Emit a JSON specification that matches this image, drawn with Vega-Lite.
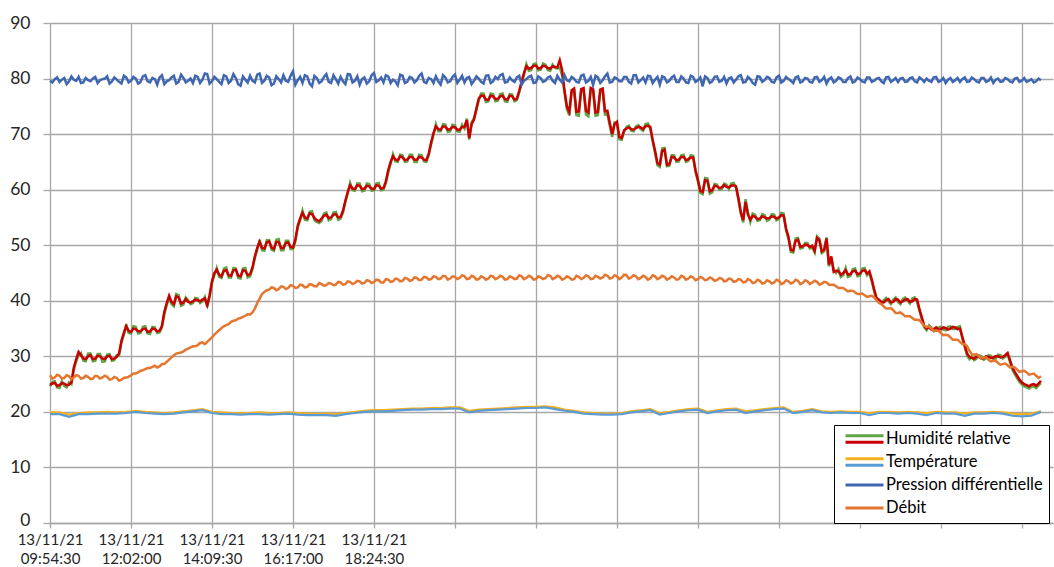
{
"$schema": "https://vega.github.io/schema/vega-lite/v6.json",
"width": 1003, "height": 500,
"autosize": {"type": "none"},
"padding": {"left": 50, "top": 23, "right": 1, "bottom": 44},
"background": "white",
"config": {"view": {"stroke": null}, "font": "Lato"},
"data": {"values": [
{"t":0,"g":24.6,"r":24.9,"p":79.6,"d":26.6,"y":19.9,"b":19.6},
{"t":7.5,"g":25.5,"r":25.2,"p":79.9,"d":26.2},
{"t":15,"g":24.3,"r":24.8,"p":79.4,"d":26.5,"y":19.9,"b":19.6},
{"t":22.5,"g":24.7,"r":25.1,"p":80.1,"d":26.1},
{"t":30,"g":25.3,"r":24.9,"p":79.5,"d":26.4,"y":19.5,"b":19.1},
{"t":37.5,"g":27.6,"r":28.0,"p":79.8,"d":26.2},
{"t":45,"g":30.2,"r":30.8,"p":80.3,"d":26.5,"y":19.8,"b":19.6},
{"t":52.5,"g":29.2,"r":29.6,"p":79.3,"d":26.1},
{"t":60,"g":30.5,"r":30.0,"p":79.7,"d":26.3,"y":19.9,"b":19.6},
{"t":67.5,"g":29.1,"r":29.5,"p":80.0,"d":26.0},
{"t":75,"g":30.4,"r":30.1,"p":79.2,"d":26.4,"y":19.9,"b":19.7},
{"t":82.5,"g":29.0,"r":29.6,"p":79.9,"d":26.2},
{"t":90,"g":30.3,"r":30.0,"p":80.4,"d":26.3,"y":20.0,"b":19.7},
{"t":97.5,"g":29.2,"r":29.5,"p":79.5,"d":25.9},
{"t":105,"g":30.2,"r":29.9,"p":79.8,"d":26.1,"y":19.9,"b":19.7},
{"t":112.5,"g":32.5,"r":32.8,"p":79.1,"d":25.8},
{"t":120,"g":35.8,"r":35.4,"p":80.2,"d":26.2,"y":20.0,"b":19.8},
{"t":127.5,"g":34.1,"r":34.4,"p":79.6,"d":26.6},
{"t":135,"g":35.3,"r":34.9,"p":80.0,"d":26.9,"y":20.2,"b":20.0},
{"t":142.5,"g":34.2,"r":34.5,"p":79.4,"d":27.4},
{"t":150,"g":35.4,"r":35.0,"p":80.6,"d":27.7,"y":20.0,"b":19.8},
{"t":157.5,"g":34.0,"r":34.5,"p":79.3,"d":27.9},
{"t":165,"g":35.2,"r":34.9,"p":79.9,"d":28.3,"y":19.9,"b":19.7},
{"t":172.5,"g":34.3,"r":34.6,"p":80.2,"d":28.2},
{"t":180,"g":37.6,"r":38.0,"p":79.0,"d":28.6,"y":19.8,"b":19.6},
{"t":187.5,"g":40.5,"r":40.9,"p":79.7,"d":29.4},
{"t":195,"g":39.0,"r":39.4,"p":80.5,"d":30.2,"y":19.9,"b":19.7},
{"t":202.5,"g":41.0,"r":40.6,"p":79.4,"d":30.6},
{"t":210,"g":39.3,"r":39.7,"p":80.1,"d":30.9,"y":20.1,"b":19.9},
{"t":217.5,"g":40.1,"r":39.8,"p":79.6,"d":31.4},
{"t":225,"g":39.6,"r":39.9,"p":79.2,"d":31.8,"y":20.3,"b":20.1},
{"t":232.5,"g":40.4,"r":40.1,"p":80.3,"d":32.0},
{"t":240,"g":39.9,"r":40.2,"p":79.8,"d":32.5,"y":20.5,"b":20.3},
{"t":247.5,"g":38.9,"r":39.2,"p":80.8,"d":32.6},
{"t":255,"g":43.2,"r":43.5,"p":79.5,"d":33.4,"y":20.0,"b":19.8},
{"t":262.5,"g":45.9,"r":45.6,"p":79.9,"d":34.3},
{"t":270,"g":44.1,"r":44.4,"p":79.0,"d":35.1,"y":19.9,"b":19.6},
{"t":277.5,"g":46.0,"r":45.5,"p":80.4,"d":35.6},
{"t":285,"g":44.2,"r":44.5,"p":79.6,"d":36.2,"y":19.8,"b":19.6},
{"t":292.5,"g":45.8,"r":45.6,"p":80.1,"d":36.5},
{"t":300,"g":44.0,"r":44.4,"p":78.7,"d":36.9,"y":19.8,"b":19.5},
{"t":307.5,"g":45.9,"r":45.4,"p":79.8,"d":37.3},
{"t":315,"g":44.4,"r":44.8,"p":80.5,"d":37.5,"y":19.8,"b":19.6},
{"t":322.5,"g":47.7,"r":48.0,"p":79.3,"d":38.6},
{"t":330,"g":51.0,"r":50.6,"p":80.9,"d":40.4,"y":19.9,"b":19.6},
{"t":337.5,"g":49.0,"r":49.4,"p":79.6,"d":41.6},
{"t":345,"g":50.9,"r":50.7,"p":80.2,"d":42.0,"y":19.8,"b":19.5},
{"t":352.5,"g":49.0,"r":49.3,"p":79.1,"d":42.3},
{"t":360,"g":51.1,"r":50.6,"p":79.9,"d":42.1,"y":19.8,"b":19.6},
{"t":367.5,"g":49.1,"r":49.5,"p":80.6,"d":42.5},
{"t":375,"g":50.8,"r":50.5,"p":79.4,"d":42.3,"y":19.9,"b":19.7},
{"t":382.5,"g":49.3,"r":49.6,"p":81.3,"d":42.7},
{"t":390,"g":53.2,"r":53.5,"p":79.7,"d":42.4,"y":19.8,"b":19.5},
{"t":397.5,"g":56.2,"r":55.8,"p":79.2,"d":42.8},
{"t":405,"g":54.5,"r":54.8,"p":80.4,"d":42.5,"y":19.7,"b":19.4},
{"t":412.5,"g":56.1,"r":55.6,"p":78.6,"d":42.9},
{"t":420,"g":54.2,"r":54.5,"p":80.1,"d":42.6,"y":19.6,"b":19.4},
{"t":427.5,"g":54.4,"r":54.8,"p":79.5,"d":43.0},
{"t":435,"g":55.9,"r":55.5,"p":80.8,"d":42.8,"y":19.7,"b":19.4},
{"t":442.5,"g":54.7,"r":55.0,"p":79.2,"d":43.1},
{"t":450,"g":56.0,"r":55.6,"p":79.9,"d":42.9,"y":19.6,"b":19.3},
{"t":457.5,"g":54.8,"r":55.1,"p":80.3,"d":43.3},
{"t":465,"g":57.8,"r":58.0,"p":79.0,"d":43.0,"y":19.8,"b":19.6},
{"t":472.5,"g":61.2,"r":60.8,"p":80.7,"d":43.4},
{"t":480,"g":59.8,"r":60.1,"p":79.6,"d":43.2,"y":20.0,"b":19.8},
{"t":487.5,"g":61.1,"r":60.7,"p":78.9,"d":43.5},
{"t":495,"g":59.8,"r":60.2,"p":80.2,"d":43.2,"y":20.2,"b":20.0},
{"t":502.5,"g":61.0,"r":60.6,"p":79.5,"d":43.6},
{"t":510,"g":59.9,"r":60.1,"p":81.0,"d":43.4,"y":20.3,"b":20.1},
{"t":517.5,"g":61.2,"r":60.7,"p":79.7,"d":43.7},
{"t":525,"g":60.0,"r":60.3,"p":79.3,"d":43.3,"y":20.3,"b":20.1},
{"t":532.5,"g":63.2,"r":63.5,"p":80.4,"d":43.8},
{"t":540,"g":66.4,"r":66.0,"p":79.8,"d":43.5,"y":20.4,"b":20.2},
{"t":547.5,"g":65.0,"r":65.3,"p":78.8,"d":43.9},
{"t":555,"g":66.2,"r":65.8,"p":80.5,"d":43.6,"y":20.5,"b":20.3},
{"t":562.5,"g":65.1,"r":65.4,"p":79.4,"d":44.0},
{"t":570,"g":66.3,"r":65.9,"p":80.1,"d":43.7,"y":20.6,"b":20.4},
{"t":577.5,"g":65.0,"r":65.4,"p":79.7,"d":44.1},
{"t":585,"g":66.2,"r":65.8,"p":80.9,"d":43.8,"y":20.6,"b":20.4},
{"t":592.5,"g":65.0,"r":65.3,"p":79.2,"d":44.2},
{"t":600,"g":68.2,"r":68.5,"p":79.9,"d":43.9,"y":20.7,"b":20.5},
{"t":607.5,"g":71.8,"r":71.4,"p":80.4,"d":44.3},
{"t":615,"g":70.5,"r":70.8,"p":78.9,"d":44.0,"y":20.7,"b":20.5},
{"t":622.5,"g":71.7,"r":71.3,"p":80.2,"d":44.4},
{"t":630,"g":70.5,"r":70.9,"p":79.5,"d":44.0,"y":20.8,"b":20.6},
{"t":637.5,"g":71.6,"r":71.2,"p":80.7,"d":44.3},
{"t":645,"g":70.4,"r":70.8,"p":79.8,"d":44.1,"y":20.8,"b":20.6},
{"t":652.5,"g":71.0,"r":71.3,"p":79.3,"d":44.4},
{"t":660,"g":69.0,"r":69.3,"p":80.3,"d":44.0,"y":20.2,"b":19.9},
{"t":667.5,"g":72.9,"r":72.6,"p":79.6,"d":44.3},
{"t":675,"g":76.1,"r":76.4,"p":80.0,"d":43.9,"y":20.4,"b":20.2},
{"t":682.5,"g":77.3,"r":76.9,"p":79.1,"d":44.2},
{"t":690,"g":75.9,"r":76.2,"p":80.6,"d":44.0,"y":20.5,"b":20.3},
{"t":697.5,"g":77.2,"r":76.8,"p":79.5,"d":44.4},
{"t":705,"g":76.0,"r":76.3,"p":79.9,"d":44.1,"y":20.6,"b":20.4},
{"t":712.5,"g":77.3,"r":76.9,"p":80.8,"d":44.3},
{"t":720,"g":75.8,"r":76.2,"p":79.4,"d":43.9,"y":20.7,"b":20.5},
{"t":727.5,"g":77.1,"r":76.8,"p":79.7,"d":44.2},
{"t":735,"g":76.1,"r":76.4,"p":80.2,"d":44.0,"y":20.8,"b":20.6},
{"t":742.5,"g":79.2,"r":79.5,"p":78.9,"d":44.4},
{"t":750,"g":82.6,"r":82.2,"p":79.9,"d":44.1,"y":20.9,"b":20.7},
{"t":757.5,"g":81.5,"r":81.9,"p":80.5,"d":44.3},
{"t":765,"g":82.7,"r":82.3,"p":79.3,"d":43.9,"y":20.9,"b":20.7},
{"t":772.5,"g":81.6,"r":81.9,"p":80.1,"d":44.2},
{"t":780,"g":82.5,"r":82.2,"p":79.6,"d":44.1,"y":21.0,"b":20.8},
{"t":787.5,"g":81.4,"r":81.8,"p":80.4,"d":44.5},
{"t":795,"g":81.9,"r":82.1,"p":79.2,"d":44.1,"y":20.8,"b":20.5},
{"t":802.5,"g":82.0,"r":83.3,"p":79.8,"d":44.3},
{"t":810,"g":77.5,"r":77.8,"p":80.6,"d":44.0,"y":20.4,"b":20.2},
{"t":817.5,"g":73.4,"r":74.0,"p":79.5,"d":44.2},
{"t":825,"g":78.0,"r":78.2,"p":80.0,"d":43.9,"y":20.2,"b":20.0},
{"t":832.5,"g":73.3,"r":74.1,"p":79.3,"d":44.3},
{"t":840,"g":77.9,"r":78.3,"p":80.7,"d":44.1,"y":19.9,"b":19.7},
{"t":847.5,"g":73.2,"r":73.9,"p":79.6,"d":44.4},
{"t":855,"g":77.8,"r":78.1,"p":78.8,"d":44.0,"y":19.8,"b":19.6},
{"t":862.5,"g":73.4,"r":74.0,"p":80.2,"d":44.3},
{"t":870,"g":77.9,"r":78.2,"p":79.7,"d":44.2,"y":19.7,"b":19.5},
{"t":877.5,"g":73.6,"r":74.2,"p":80.9,"d":44.5},
{"t":885,"g":69.5,"r":70.0,"p":79.4,"d":44.1,"y":19.7,"b":19.5},
{"t":892.5,"g":72.0,"r":72.2,"p":80.0,"d":44.4},
{"t":900,"g":69.0,"r":69.3,"p":79.5,"d":44.2,"y":19.8,"b":19.6},
{"t":907.5,"g":71.3,"r":71.0,"p":80.3,"d":44.6},
{"t":915,"g":70.6,"r":70.9,"p":79.1,"d":44.2,"y":20.1,"b":19.9},
{"t":922.5,"g":71.4,"r":71.1,"p":80.6,"d":44.4},
{"t":930,"g":70.9,"r":71.2,"p":79.7,"d":44.1,"y":20.3,"b":20.1},
{"t":937.5,"g":71.8,"r":71.4,"p":79.3,"d":44.3},
{"t":945,"g":71.0,"r":71.3,"p":80.4,"d":44.0,"y":20.5,"b":20.3},
{"t":952.5,"g":66.7,"r":67.0,"p":79.8,"d":44.4},
{"t":960,"g":64.1,"r":64.5,"p":78.9,"d":44.1,"y":19.8,"b":19.5},
{"t":967.5,"g":67.5,"r":67.2,"p":80.2,"d":44.3},
{"t":975,"g":64.3,"r":64.6,"p":79.6,"d":44.0,"y":20.0,"b":19.8},
{"t":982.5,"g":66.2,"r":65.8,"p":80.5,"d":44.2},
{"t":990,"g":65.1,"r":65.4,"p":79.4,"d":43.9,"y":20.3,"b":20.1},
{"t":997.5,"g":66.3,"r":65.9,"p":80.0,"d":44.3},
{"t":1005,"g":65.2,"r":65.5,"p":79.2,"d":44.0,"y":20.5,"b":20.3},
{"t":1012.5,"g":66.1,"r":65.8,"p":80.3,"d":44.2},
{"t":1020,"g":61.5,"r":61.8,"p":79.7,"d":43.9,"y":20.6,"b":20.4},
{"t":1027.5,"g":59.2,"r":59.6,"p":78.6,"d":44.1},
{"t":1035,"g":62.0,"r":61.6,"p":80.1,"d":43.8,"y":20.0,"b":19.8},
{"t":1042.5,"g":59.5,"r":59.9,"p":79.5,"d":44.0},
{"t":1050,"g":60.9,"r":60.6,"p":80.4,"d":43.7,"y":20.3,"b":20.1},
{"t":1057.5,"g":60.1,"r":60.4,"p":79.6,"d":44.0},
{"t":1065,"g":60.9,"r":60.5,"p":79.1,"d":43.6,"y":20.5,"b":20.3},
{"t":1072.5,"g":61.1,"r":60.7,"p":80.2,"d":43.9},
{"t":1080,"g":60.3,"r":60.6,"p":79.8,"d":43.5,"y":20.6,"b":20.4},
{"t":1087.5,"g":55.7,"r":56.0,"p":80.6,"d":43.8},
{"t":1095,"g":58.3,"r":57.8,"p":79.4,"d":43.4,"y":20.1,"b":19.8},
{"t":1102.5,"g":54.2,"r":54.6,"p":79.9,"d":43.7},
{"t":1110,"g":55.5,"r":55.1,"p":78.9,"d":43.3,"y":20.3,"b":20.1},
{"t":1117.5,"g":54.5,"r":54.8,"p":80.3,"d":43.6},
{"t":1125,"g":55.4,"r":55.0,"p":79.7,"d":43.2,"y":20.5,"b":20.3},
{"t":1132.5,"g":54.6,"r":54.9,"p":80.1,"d":43.5},
{"t":1140,"g":55.5,"r":55.1,"p":79.3,"d":43.3,"y":20.7,"b":20.5},
{"t":1147.5,"g":54.7,"r":55.0,"p":80.5,"d":43.6},
{"t":1155,"g":55.7,"r":55.3,"p":79.6,"d":43.2,"y":20.8,"b":20.6},
{"t":1162.5,"g":51.2,"r":51.5,"p":79.9,"d":43.5},
{"t":1170,"g":48.7,"r":49.0,"p":79.2,"d":43.3,"y":20.0,"b":19.8},
{"t":1177.5,"g":51.3,"r":51.0,"p":80.4,"d":43.6},
{"t":1185,"g":49.5,"r":49.8,"p":79.5,"d":43.2,"y":20.2,"b":20.0},
{"t":1192.5,"g":50.4,"r":50.0,"p":80.0,"d":43.5},
{"t":1200,"g":49.6,"r":49.9,"p":79.3,"d":43.3,"y":20.5,"b":20.3},
{"t":1207.5,"g":51.6,"r":51.3,"p":80.3,"d":43.4},
{"t":1215,"g":48.6,"r":48.9,"p":79.7,"d":43.1,"y":20.1,"b":19.9},
{"t":1222.5,"g":51.4,"r":51.2,"p":79.1,"d":43.3},
{"t":1230,"g":47.7,"r":48.0,"p":80.2,"d":42.9,"y":20.0,"b":19.8},
{"t":1237.5,"g":45.0,"r":45.4,"p":79.6,"d":42.6},
{"t":1245,"g":44.3,"r":44.7,"p":80.0,"d":42.3,"y":20.1,"b":19.9},
{"t":1252.5,"g":45.9,"r":45.5,"p":79.4,"d":42.0},
{"t":1260,"g":44.5,"r":44.8,"p":80.4,"d":41.8,"y":20.0,"b":19.8},
{"t":1267.5,"g":45.8,"r":45.4,"p":79.5,"d":41.5},
{"t":1275,"g":44.5,"r":44.9,"p":79.9,"d":41.2,"y":20.0,"b":19.8},
{"t":1282.5,"g":45.9,"r":45.5,"p":79.3,"d":41.0},
{"t":1290,"g":45.0,"r":45.3,"p":80.2,"d":40.8,"y":19.8,"b":19.4},
{"t":1297.5,"g":41.7,"r":42.0,"p":79.6,"d":40.6},
{"t":1305,"g":39.8,"r":40.2,"p":80.1,"d":39.6,"y":20.0,"b":19.8},
{"t":1312.5,"g":40.1,"r":39.7,"p":79.2,"d":39.0},
{"t":1320,"g":39.9,"r":40.3,"p":80.3,"d":38.6,"y":20.0,"b":19.8},
{"t":1327.5,"g":40.2,"r":39.8,"p":79.7,"d":38.3},
{"t":1335,"g":39.8,"r":40.2,"p":79.4,"d":37.8,"y":19.9,"b":19.7},
{"t":1342.5,"g":40.3,"r":39.9,"p":80.1,"d":37.6},
{"t":1350,"g":40.0,"r":40.3,"p":79.5,"d":37.2,"y":20.0,"b":19.8},
{"t":1357.5,"g":40.4,"r":39.9,"p":80.2,"d":36.9},
{"t":1365,"g":39.9,"r":40.2,"p":79.3,"d":36.6,"y":19.9,"b":19.7},
{"t":1372.5,"g":36.7,"r":37.0,"p":79.9,"d":36.0},
{"t":1380,"g":34.7,"r":35.0,"p":80.0,"d":35.3,"y":19.8,"b":19.4},
{"t":1387.5,"g":35.2,"r":34.8,"p":79.4,"d":35.0},
{"t":1395,"g":34.8,"r":35.2,"p":80.3,"d":34.6,"y":20.0,"b":19.8},
{"t":1402.5,"g":35.3,"r":34.9,"p":79.6,"d":34.2},
{"t":1410,"g":34.7,"r":35.1,"p":79.2,"d":33.9,"y":19.9,"b":19.7},
{"t":1417.5,"g":35.4,"r":35.0,"p":80.1,"d":33.4},
{"t":1425,"g":34.9,"r":35.2,"p":79.7,"d":33.0,"y":19.9,"b":19.7},
{"t":1432.5,"g":35.4,"r":35.0,"p":79.4,"d":32.6},
{"t":1440,"g":31.7,"r":32.0,"p":80.2,"d":32.2,"y":19.7,"b":19.3},
{"t":1447.5,"g":29.5,"r":29.9,"p":79.5,"d":31.0},
{"t":1455,"g":29.3,"r":29.6,"p":79.9,"d":30.3,"y":19.9,"b":19.7},
{"t":1462.5,"g":30.2,"r":29.9,"p":79.3,"d":30.0},
{"t":1470,"g":29.4,"r":29.7,"p":80.1,"d":29.8,"y":19.9,"b":19.7},
{"t":1477.5,"g":30.2,"r":29.9,"p":79.6,"d":29.4},
{"t":1485,"g":29.5,"r":29.8,"p":79.2,"d":29.2,"y":20.0,"b":19.8},
{"t":1492.5,"g":30.3,"r":30.0,"p":80.0,"d":28.8},
{"t":1500,"g":29.6,"r":29.9,"p":79.5,"d":28.6,"y":19.9,"b":19.7},
{"t":1507.5,"g":30.4,"r":30.6,"p":79.9,"d":28.4},
{"t":1515,"g":27.6,"r":28.0,"p":79.3,"d":28.1,"y":19.7,"b":19.3},
{"t":1522.5,"g":26.1,"r":26.5,"p":80.1,"d":27.6},
{"t":1530,"g":24.9,"r":25.3,"p":79.6,"d":27.3,"y":19.6,"b":19.2},
{"t":1537.5,"g":24.4,"r":24.8,"p":79.4,"d":27.1},
{"t":1545,"g":24.5,"r":24.9,"p":79.9,"d":26.8,"y":19.7,"b":19.3},
{"t":1552.5,"g":24.3,"r":24.7,"p":79.5,"d":26.5},
{"t":1560,"g":25.2,"r":25.6,"p":79.7,"d":26.4,"y":20.1,"b":20.0},
{"t":3.75,"g":25.4,"r":25.1,"p":79.3,"d":26.0},
{"t":11.25,"g":24.4,"r":24.7,"p":80.2,"d":26.7},
{"t":18.75,"g":25.5,"r":25.2,"p":79.8,"d":26.0},
{"t":26.25,"g":24.4,"r":24.8,"p":79.0,"d":26.6},
{"t":33.75,"g":25.0,"r":25.3,"p":80.4,"d":25.9},
{"t":41.25,"g":29.1,"r":29.5,"p":79.6,"d":26.6},
{"t":48.75,"g":30.6,"r":30.2,"p":79.2,"d":26.0},
{"t":56.25,"g":29.1,"r":29.5,"p":80.1,"d":26.5},
{"t":63.75,"g":30.5,"r":30.2,"p":79.5,"d":25.9},
{"t":71.25,"g":29.2,"r":29.6,"p":80.3,"d":26.5},
{"t":78.75,"g":30.4,"r":30.0,"p":79.7,"d":26.0},
{"t":86.25,"g":29.1,"r":29.5,"p":80.0,"d":26.5},
{"t":93.75,"g":30.4,"r":30.1,"p":79.1,"d":25.8},
{"t":101.25,"g":29.3,"r":29.6,"p":80.2,"d":26.3},
{"t":108.75,"g":30.2,"r":30.5,"p":79.4,"d":25.6},
{"t":116.25,"g":33.9,"r":34.2,"p":80.5,"d":26.1},
{"t":123.75,"g":34.2,"r":34.6,"p":79.3,"d":26.3},
{"t":131.25,"g":35.4,"r":35.0,"p":80.3,"d":26.9},
{"t":138.75,"g":34.1,"r":34.5,"p":79.1,"d":27.1},
{"t":146.25,"g":35.3,"r":34.9,"p":80.4,"d":27.5},
{"t":153.75,"g":34.1,"r":34.4,"p":79.5,"d":27.9},
{"t":161.25,"g":35.3,"r":35.0,"p":80.1,"d":28.1},
{"t":168.75,"g":34.2,"r":34.5,"p":78.9,"d":28.0},
{"t":176.25,"g":35.2,"r":35.5,"p":80.6,"d":28.6},
{"t":183.75,"g":39.2,"r":39.6,"p":79.5,"d":29.0},
{"t":191.25,"g":39.4,"r":39.8,"p":80.2,"d":29.8},
{"t":198.75,"g":41.2,"r":40.8,"p":79.1,"d":30.5},
{"t":206.25,"g":39.1,"r":39.5,"p":80.7,"d":30.7},
{"t":213.75,"g":40.6,"r":40.3,"p":79.3,"d":31.2},
{"t":221.25,"g":39.4,"r":39.7,"p":80.0,"d":31.6},
{"t":228.75,"g":40.5,"r":40.2,"p":80.5,"d":31.8},
{"t":236.25,"g":39.6,"r":39.9,"p":79.2,"d":32.4},
{"t":243.75,"g":40.7,"r":40.4,"p":80.9,"d":32.2},
{"t":251.25,"g":40.7,"r":41.0,"p":79.1,"d":33.0},
{"t":258.75,"g":44.6,"r":45.0,"p":80.3,"d":33.9},
{"t":266.25,"g":44.3,"r":44.7,"p":79.4,"d":34.7},
{"t":273.75,"g":45.8,"r":45.4,"p":80.6,"d":35.4},
{"t":281.25,"g":44.2,"r":44.6,"p":79.2,"d":35.8},
{"t":288.75,"g":45.9,"r":45.5,"p":80.8,"d":36.4},
{"t":296.25,"g":44.1,"r":44.5,"p":79.0,"d":36.8},
{"t":303.75,"g":45.8,"r":45.5,"p":80.4,"d":37.1},
{"t":311.25,"g":44.2,"r":44.6,"p":79.3,"d":37.6},
{"t":318.75,"g":45.7,"r":46.0,"p":79.6,"d":37.9},
{"t":326.25,"g":49.2,"r":49.5,"p":80.7,"d":39.6},
{"t":333.75,"g":49.1,"r":49.5,"p":79.2,"d":41.2},
{"t":341.25,"g":50.9,"r":50.5,"p":80.5,"d":41.9},
{"t":348.75,"g":49.2,"r":49.6,"p":78.8,"d":42.4},
{"t":356.25,"g":51.0,"r":50.6,"p":80.4,"d":41.9},
{"t":363.75,"g":49.1,"r":49.5,"p":79.3,"d":42.6},
{"t":371.25,"g":50.8,"r":50.4,"p":79.6,"d":42.1},
{"t":378.75,"g":49.3,"r":49.7,"p":80.5,"d":42.8},
{"t":386.25,"g":50.7,"r":51.0,"p":78.9,"d":42.3},
{"t":393.75,"g":54.5,"r":54.8,"p":80.3,"d":42.9},
{"t":401.25,"g":54.6,"r":55.0,"p":80.6,"d":42.4},
{"t":408.75,"g":56.0,"r":55.7,"p":79.1,"d":43.0},
{"t":416.25,"g":54.5,"r":54.9,"p":80.5,"d":42.6},
{"t":423.75,"g":54.0,"r":54.3,"p":79.2,"d":43.2},
{"t":431.25,"g":55.7,"r":55.3,"p":80.3,"d":42.7},
{"t":438.75,"g":54.5,"r":54.9,"p":79.4,"d":43.2},
{"t":446.25,"g":55.9,"r":55.5,"p":80.6,"d":42.8},
{"t":453.75,"g":54.6,"r":55.0,"p":79.1,"d":43.4},
{"t":461.25,"g":55.9,"r":56.2,"p":79.5,"d":42.9},
{"t":468.75,"g":59.3,"r":59.6,"p":80.8,"d":43.5},
{"t":476.25,"g":59.9,"r":60.2,"p":79.3,"d":43.0},
{"t":483.75,"g":61.1,"r":60.8,"p":80.4,"d":43.6},
{"t":491.25,"g":59.7,"r":60.1,"p":79.9,"d":43.1},
{"t":498.75,"g":61.1,"r":60.7,"p":79.1,"d":43.7},
{"t":506.25,"g":59.8,"r":60.2,"p":80.6,"d":43.2},
{"t":513.75,"g":61.1,"r":60.8,"p":79.4,"d":43.8},
{"t":521.25,"g":59.9,"r":60.2,"p":80.2,"d":43.3},
{"t":528.75,"g":61.2,"r":61.5,"p":80.6,"d":43.9},
{"t":536.25,"g":64.7,"r":65.0,"p":79.2,"d":43.4},
{"t":543.75,"g":65.1,"r":65.4,"p":79.5,"d":44.0},
{"t":551.25,"g":66.3,"r":66.0,"p":80.7,"d":43.5},
{"t":558.75,"g":65.0,"r":65.3,"p":79.2,"d":44.1},
{"t":566.25,"g":66.3,"r":65.9,"p":80.3,"d":43.6},
{"t":573.75,"g":65.0,"r":65.4,"p":79.3,"d":44.2},
{"t":581.25,"g":66.3,"r":65.9,"p":80.5,"d":43.7},
{"t":588.75,"g":65.1,"r":65.4,"p":79.4,"d":44.3},
{"t":596.25,"g":66.2,"r":66.5,"p":80.1,"d":43.8},
{"t":603.75,"g":69.9,"r":70.2,"p":79.2,"d":44.4},
{"t":611.25,"g":70.5,"r":70.9,"p":79.5,"d":43.9},
{"t":618.75,"g":71.8,"r":71.4,"p":80.6,"d":44.5},
{"t":626.25,"g":70.4,"r":70.8,"p":79.3,"d":43.8},
{"t":633.75,"g":71.7,"r":71.3,"p":80.3,"d":44.4},
{"t":641.25,"g":70.5,"r":70.8,"p":79.2,"d":43.9},
{"t":648.75,"g":71.7,"r":71.3,"p":80.5,"d":44.6},
{"t":656.25,"g":72.8,"r":72.5,"p":80.1,"d":43.9},
{"t":663.75,"g":72.1,"r":71.8,"p":79.0,"d":44.5},
{"t":671.25,"g":74.3,"r":74.6,"p":80.4,"d":43.8},
{"t":678.75,"g":77.3,"r":76.9,"p":79.4,"d":44.4},
{"t":686.25,"g":75.8,"r":76.2,"p":80.5,"d":43.8},
{"t":693.75,"g":77.3,"r":76.9,"p":79.2,"d":44.5},
{"t":701.25,"g":75.9,"r":76.3,"p":80.3,"d":43.9},
{"t":708.75,"g":77.2,"r":76.8,"p":80.6,"d":44.5},
{"t":716.25,"g":75.9,"r":76.3,"p":79.3,"d":43.8},
{"t":723.75,"g":77.2,"r":76.9,"p":80.2,"d":44.4},
{"t":731.25,"g":75.9,"r":76.2,"p":79.4,"d":43.9},
{"t":738.75,"g":77.5,"r":77.8,"p":80.5,"d":44.6},
{"t":746.25,"g":80.7,"r":81.0,"p":79.6,"d":43.9},
{"t":753.75,"g":81.4,"r":81.8,"p":80.3,"d":44.5},
{"t":761.25,"g":82.6,"r":82.3,"p":79.2,"d":43.8},
{"t":768.75,"g":81.5,"r":81.8,"p":80.4,"d":44.4},
{"t":776.25,"g":82.7,"r":82.3,"p":79.4,"d":43.9},
{"t":783.75,"g":81.5,"r":81.9,"p":80.2,"d":44.6},
{"t":791.25,"g":82.5,"r":82.2,"p":79.6,"d":43.9},
{"t":798.75,"g":81.8,"r":82.0,"p":80.5,"d":44.5},
{"t":806.25,"g":80.5,"r":81.5,"p":79.3,"d":43.8},
{"t":813.75,"g":74.5,"r":75.0,"p":79.7,"d":44.4},
{"t":821.25,"g":77.6,"r":77.9,"p":80.3,"d":43.8},
{"t":828.75,"g":73.4,"r":74.0,"p":79.4,"d":44.5},
{"t":836.25,"g":77.8,"r":78.1,"p":80.5,"d":43.9},
{"t":843.75,"g":73.5,"r":74.2,"p":79.3,"d":44.6},
{"t":851.25,"g":77.9,"r":78.3,"p":80.3,"d":43.9},
{"t":858.75,"g":73.3,"r":73.9,"p":80.5,"d":44.5},
{"t":866.25,"g":77.7,"r":78.0,"p":79.2,"d":44.0},
{"t":873.75,"g":73.5,"r":74.1,"p":80.4,"d":44.7},
{"t":881.25,"g":71.5,"r":72.0,"p":79.3,"d":44.0},
{"t":888.75,"g":72.1,"r":71.8,"p":80.2,"d":44.6},
{"t":896.25,"g":69.1,"r":69.5,"p":79.5,"d":43.9},
{"t":903.75,"g":70.4,"r":70.7,"p":80.3,"d":44.7},
{"t":911.25,"g":71.5,"r":71.2,"p":79.4,"d":44.0},
{"t":918.75,"g":70.5,"r":70.8,"p":80.6,"d":44.6},
{"t":926.25,"g":71.6,"r":71.3,"p":79.3,"d":43.9},
{"t":933.75,"g":70.6,"r":70.9,"p":80.2,"d":44.5},
{"t":941.25,"g":71.9,"r":71.5,"p":80.5,"d":43.8},
{"t":948.75,"g":68.7,"r":69.0,"p":79.2,"d":44.6},
{"t":956.25,"g":64.4,"r":64.8,"p":80.3,"d":43.9},
{"t":963.75,"g":67.4,"r":67.0,"p":80.4,"d":44.5},
{"t":971.25,"g":64.2,"r":64.5,"p":79.3,"d":43.8},
{"t":978.75,"g":66.2,"r":65.9,"p":80.2,"d":44.4},
{"t":986.25,"g":65.0,"r":65.3,"p":79.4,"d":43.8},
{"t":993.75,"g":66.2,"r":65.9,"p":80.4,"d":44.5},
{"t":1001.25,"g":65.0,"r":65.3,"p":79.3,"d":43.8},
{"t":1008.75,"g":66.2,"r":65.8,"p":80.5,"d":44.4},
{"t":1016.25,"g":63.2,"r":63.5,"p":79.4,"d":43.7},
{"t":1023.75,"g":59.4,"r":59.8,"p":80.2,"d":44.3},
{"t":1031.25,"g":62.1,"r":61.7,"p":80.4,"d":43.7},
{"t":1038.75,"g":59.3,"r":59.7,"p":79.2,"d":44.2},
{"t":1046.25,"g":61.0,"r":60.7,"p":80.3,"d":43.6},
{"t":1053.75,"g":60.0,"r":60.3,"p":79.4,"d":44.1},
{"t":1061.25,"g":61.1,"r":60.8,"p":80.3,"d":43.5},
{"t":1068.75,"g":60.1,"r":60.4,"p":80.0,"d":44.0},
{"t":1076.25,"g":61.2,"r":60.8,"p":79.3,"d":43.4},
{"t":1083.75,"g":58.2,"r":58.5,"p":80.4,"d":43.9},
{"t":1091.25,"g":54.1,"r":54.5,"p":79.3,"d":43.3},
{"t":1098.75,"g":55.9,"r":55.5,"p":80.3,"d":43.9},
{"t":1106.25,"g":55.7,"r":55.3,"p":79.2,"d":43.2},
{"t":1113.75,"g":54.4,"r":54.7,"p":80.4,"d":43.8},
{"t":1121.25,"g":55.6,"r":55.2,"p":79.4,"d":43.1},
{"t":1128.75,"g":54.4,"r":54.8,"p":80.3,"d":43.7},
{"t":1136.25,"g":55.6,"r":55.2,"p":79.4,"d":43.1},
{"t":1143.75,"g":54.5,"r":54.8,"p":80.2,"d":43.8},
{"t":1151.25,"g":55.8,"r":55.4,"p":79.3,"d":43.0},
{"t":1158.75,"g":52.7,"r":53.0,"p":80.3,"d":43.7},
{"t":1166.25,"g":48.8,"r":49.2,"p":79.6,"d":43.1},
{"t":1173.75,"g":51.2,"r":50.8,"p":80.2,"d":43.8},
{"t":1181.25,"g":49.4,"r":49.7,"p":79.3,"d":43.0},
{"t":1188.75,"g":50.4,"r":50.1,"p":80.1,"d":43.7},
{"t":1196.25,"g":49.4,"r":49.7,"p":79.4,"d":43.0},
{"t":1203.75,"g":48.7,"r":49.0,"p":80.2,"d":43.6},
{"t":1211.25,"g":51.2,"r":50.9,"p":79.4,"d":42.9},
{"t":1218.75,"g":48.9,"r":49.2,"p":80.3,"d":43.4},
{"t":1226.25,"g":46.2,"r":46.5,"p":79.9,"d":42.9},
{"t":1233.75,"g":45.6,"r":45.2,"p":79.3,"d":42.9},
{"t":1241.25,"g":45.7,"r":45.3,"p":80.2,"d":42.3},
{"t":1248.75,"g":44.6,"r":45.0,"p":79.4,"d":42.3},
{"t":1256.25,"g":44.3,"r":44.7,"p":80.1,"d":41.7},
{"t":1263.75,"g":45.7,"r":45.3,"p":79.3,"d":41.8},
{"t":1271.25,"g":44.4,"r":44.8,"p":80.2,"d":41.2},
{"t":1278.75,"g":45.8,"r":45.4,"p":79.5,"d":41.3},
{"t":1286.25,"g":44.6,"r":44.9,"p":80.2,"d":40.7},
{"t":1293.75,"g":43.5,"r":43.8,"p":79.4,"d":40.9},
{"t":1301.25,"g":40.1,"r":40.5,"p":80.0,"d":40.1},
{"t":1308.75,"g":39.5,"r":39.8,"p":79.5,"d":39.4},
{"t":1316.25,"g":40.5,"r":40.1,"p":80.2,"d":38.6},
{"t":1323.75,"g":39.4,"r":39.7,"p":79.4,"d":38.7},
{"t":1331.25,"g":40.6,"r":40.3,"p":80.1,"d":37.8},
{"t":1338.75,"g":39.4,"r":39.7,"p":80.0,"d":37.9},
{"t":1346.25,"g":40.6,"r":40.2,"p":79.4,"d":37.2},
{"t":1353.75,"g":39.5,"r":39.8,"p":80.1,"d":37.2},
{"t":1361.25,"g":40.6,"r":40.3,"p":79.5,"d":36.6},
{"t":1368.75,"g":38.2,"r":38.5,"p":80.2,"d":36.5},
{"t":1376.25,"g":35.2,"r":35.5,"p":79.4,"d":35.5},
{"t":1383.75,"g":35.6,"r":35.2,"p":79.6,"d":35.4},
{"t":1391.25,"g":34.5,"r":34.9,"p":80.2,"d":34.6},
{"t":1398.75,"g":35.2,"r":34.8,"p":79.4,"d":34.6},
{"t":1406.25,"g":34.8,"r":35.2,"p":80.1,"d":33.8},
{"t":1413.75,"g":35.3,"r":34.8,"p":79.8,"d":33.8},
{"t":1421.25,"g":34.9,"r":35.3,"p":79.4,"d":33.0},
{"t":1428.75,"g":35.3,"r":34.9,"p":80.1,"d":33.0},
{"t":1436.25,"g":33.2,"r":33.5,"p":79.9,"d":32.2},
{"t":1443.75,"g":30.1,"r":30.5,"p":79.4,"d":31.8},
{"t":1451.25,"g":30.0,"r":29.7,"p":80.2,"d":30.4},
{"t":1458.75,"g":29.6,"r":30.0,"p":79.5,"d":30.4},
{"t":1466.25,"g":30.0,"r":29.6,"p":80.1,"d":29.6},
{"t":1473.75,"g":29.7,"r":30.0,"p":79.4,"d":29.8},
{"t":1481.25,"g":30.1,"r":29.7,"p":80.2,"d":29.1},
{"t":1488.75,"g":29.6,"r":30.0,"p":79.8,"d":29.2},
{"t":1496.25,"g":30.2,"r":29.8,"p":79.4,"d":28.5},
{"t":1503.75,"g":29.9,"r":30.2,"p":80.1,"d":28.7},
{"t":1511.25,"g":29.0,"r":29.3,"p":79.5,"d":28.0},
{"t":1518.75,"g":26.8,"r":27.2,"p":80.0,"d":28.0},
{"t":1526.25,"g":25.4,"r":25.8,"p":79.4,"d":27.2},
{"t":1533.75,"g":24.6,"r":25.0,"p":80.1,"d":27.4},
{"t":1541.25,"g":24.2,"r":24.6,"p":79.6,"d":26.7},
{"t":1548.75,"g":24.6,"r":25.0,"p":79.3,"d":26.9},
{"t":1556.25,"g":24.8,"r":25.1,"p":80.0,"d":26.1}
]},
"transform": [
  {"fold": ["g","r","y","b","p","d"], "as": ["k","v"]},
  {"filter": "isValid(datum.v)"}
],
"encoding": {
  "x": {"field": "t", "type": "quantitative",
    "scale": {"domain": [0, 1579], "nice": false, "zero": false},
    "axis": {"values": [0,127.5,255,382.5,510,637.5,765,892.5,1020,1147.5,1275,1402.5,1530],
      "grid": true, "gridColor": "#A6A6A6", "gridWidth": 1.3,
      "domainColor": "#A6A6A6", "domainWidth": 1.3,
      "tickColor": "#A6A6A6", "tickSize": 5, "tickWidth": 1.3,
      "labelExpr": "datum.value <= 510 ? [utcFormat(utc(2021,10,13,9,54,30) + datum.value*60000, '%d/%m/%y'), utcFormat(utc(2021,10,13,9,54,30) + datum.value*60000, '%H:%M:%S')] : ''",
      "labelFont": "Lato", "labelFontSize": 15, "labelColor": "#262626", "labelLineHeight": 19.5,
      "labelPadding": 4, "labelFlush": false, "labelOverlap": false, "labelBound": false, "title": null}},
  "y": {"field": "v", "type": "quantitative",
    "scale": {"domain": [0, 90], "nice": false},
    "axis": {"values": [0,10,20,30,40,50,60,70,80,90],
      "grid": true, "gridColor": "#A6A6A6", "gridWidth": 1.3, "domain": false,
      "tickColor": "#A6A6A6", "tickSize": 7, "tickWidth": 1.3,
      "labelOffset": {"condition": {"test": "datum.value == 0", "value": -3}, "value": 0},
      "labelFont": "Lato", "labelFontSize": 17.5, "labelColor": "#262626", "labelPadding": 13, "title": null}}
},
"layer": [
  {"transform": [{"filter": "datum.k == 'g'"}],
   "mark": {"type": "line", "strokeWidth": 2.5},
   "encoding": {"color": {"field": "k", "type": "nominal",
     "scale": {"domain": ["g","y","p","d"], "range": ["#62A446","#F2B01E","#3F67B1","#E4762F"]},
     "legend": {"orient": "none", "legendX": 784, "legendY": 402, "title": null,
       "labelExpr": "datum.label == 'g' ? 'Humidité relative' : datum.label == 'y' ? 'Température' : datum.label == 'p' ? 'Pression différentielle' : 'Débit'",
       "labelFont": "Lato", "labelFontSize": 16.5, "labelColor": "#000000",
       "symbolType": "stroke", "symbolSize": 1444, "symbolStrokeWidth": 3,
       "clipHeight": 16, "rowPadding": 6, "padding": 6, "symbolOffset": 4, "labelOffset": 1,
       "strokeColor": "#000000", "fillColor": "#ffffff",
       "encode": {"symbols": {"update": {"shape": {"signal": "datum.value == 'g' || datum.value == 'y' ? 'M-1,-0.17L1,-0.17' : 'M-1,0L1,0'"}}}}}}}},
  {"transform": [{"filter": "datum.k == 'r'"}],
   "mark": {"type": "line", "strokeWidth": 2.5},
   "encoding": {"stroke": {"field": "k", "type": "nominal",
     "scale": {"domain": ["r","b"], "range": ["#C80000","#5B9BD5"]},
     "legend": {"orient": "none", "legendX": 784, "legendY": 402, "title": null,
       "labelExpr": "datum.label == 'r' ? 'Humidité relative' : 'Température'",
       "labelFont": "Lato", "labelFontSize": 16.5, "labelOpacity": 0,
       "symbolType": "stroke", "symbolSize": 1444, "symbolStrokeWidth": 3,
       "clipHeight": 16, "rowPadding": 6, "padding": 6, "symbolOffset": 4, "labelOffset": 1,
       "encode": {"symbols": {"update": {"shape": {"value": "M-1,0.17L1,0.17"}}}}}}}},
  {"transform": [{"filter": "datum.k == 'y'"}],
   "mark": {"type": "line", "strokeWidth": 2.2},
   "encoding": {"color": {"field": "k", "type": "nominal"}}},
  {"transform": [{"filter": "datum.k == 'b'"}],
   "mark": {"type": "line", "strokeWidth": 2.2},
   "encoding": {"stroke": {"field": "k", "type": "nominal"}}},
  {"transform": [{"filter": "datum.k == 'p' || datum.k == 'd'"}],
   "mark": {"type": "line", "strokeWidth": 2.5},
   "encoding": {"color": {"field": "k", "type": "nominal"}}}
]
}
